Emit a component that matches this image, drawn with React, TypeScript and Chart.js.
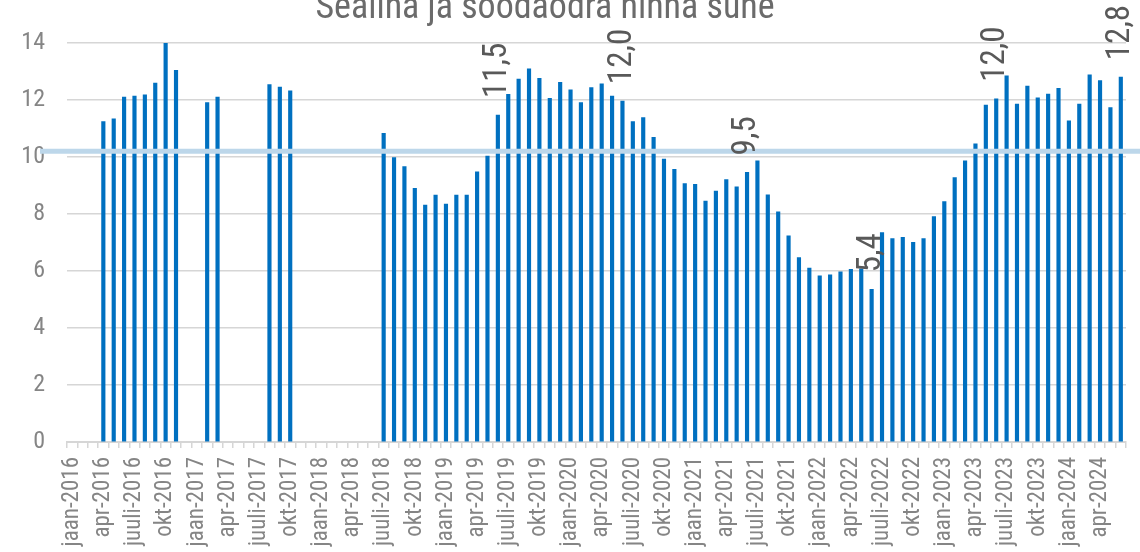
import React, { useEffect, useRef } from 'react';
import { Chart, registerables } from 'chart.js';

Chart.register(...registerables);

// ---- data ----
const monthNames = ['jaan', 'veebr', 'märts', 'apr', 'mai', 'juuni', 'juuli', 'aug', 'sept', 'okt', 'nov', 'dets'];
const years = [2016, 2017, 2018, 2019, 2020, 2021, 2022, 2023, 2024];

const values2016 = [null, null, null, 11.24, 11.34, 12.10, 12.14, 12.18, 12.59, 14.02, 13.04, null];
const values2017 = [null, 11.91, 12.10, null, null, null, null, 12.54, 12.45, 12.32, null, null];
const values2018 = [null, null, null, null, null, null, 10.83, 9.98, 9.66, 8.90, 8.31, 8.66];
const values2019 = [8.35, 8.66, 8.66, 9.48, 10.03, 11.47, 12.20, 12.73, 13.09, 12.76, 12.06, 12.62];
const values2020 = [12.36, 11.91, 12.44, 12.57, 12.14, 11.96, 11.24, 11.38, 10.69, 9.93, 9.57, 9.07];
const values2021 = [9.04, 8.45, 8.80, 9.21, 8.95, 9.46, 9.87, 8.67, 8.08, 7.23, 6.47, 6.10];
const values2022 = [5.83, 5.87, 5.97, 6.06, 6.08, 5.36, 7.35, 7.14, 7.18, 7.01, 7.14, 7.91];
const values2023 = [8.44, 9.28, 9.87, 10.46, 11.82, 12.04, 12.85, 11.86, 12.49, 12.08, 12.21, 12.41];
const values2024 = [11.27, 11.86, 12.88, 12.68, 11.73, 12.80];

const yearValues = [values2016, values2017, values2018, values2019, values2020, values2021, values2022, values2023, values2024];

const labeledCategories = ['juuni-2019', 'juuni-2020', 'juuni-2021', 'juuni-2022', 'juuni-2023', 'juuni-2024'];
const referenceLevel = 10.2;
const yTicks = [0, 2, 4, 6, 8, 10, 12, 14];
const titleText = 'Sealiha ja söödaodra hinna suhe';

// build table for the library
const categories: string[] = [];
const values: (number | null)[] = [];
years.forEach((yr, yi) => {
  yearValues[yi].forEach((v, mi) => {
    categories.push(`${monthNames[mi]}-${yr}`);
    values.push(v);
  });
});

const FONT = "'Roboto Condensed', 'Liberation Sans Narrow', 'DejaVu Sans Condensed', Roboto, sans-serif";

const overlayPlugin = {
  id: 'overlay',
  afterDatasetsDraw(chart: any) {
    const ctx = chart.ctx;
    const yScale = chart.scales.y;
    // reference line
    const yRef = yScale.getPixelForValue(referenceLevel);
    ctx.save();
    ctx.strokeStyle = '#bdd7ea';
    ctx.lineWidth = 5;
    ctx.beginPath();
    ctx.moveTo(40, yRef);
    ctx.lineTo(chart.width, yRef);
    ctx.stroke();
    ctx.restore();

    // data labels
    const meta = chart.getDatasetMeta(0);
    ctx.save();
    ctx.fillStyle = '#595959';
    ctx.font = `33px ${FONT}`;
    labeledCategories.forEach((cat) => {
      const i = categories.indexOf(cat);
      const v = values[i];
      if (i < 0 || v == null) return;
      const el = meta.data[i];
      ctx.save();
      ctx.translate(el.x, el.y - 17);
      ctx.rotate(-Math.PI / 2);
      ctx.textAlign = 'left';
      ctx.textBaseline = 'middle';
      ctx.fillText(v.toFixed(1).replace('.', ','), 0, 0);
      ctx.restore();
    });
    ctx.restore();

    // title (cut at top)
    ctx.save();
    ctx.fillStyle = '#6b6b6b';
    ctx.font = `36px ${FONT}`;
    ctx.textAlign = 'center';
    ctx.textBaseline = 'alphabetic';
    ctx.fillText(titleText, 545, 18);
    ctx.restore();
  },
};

export default function App() {
  const ref = useRef<HTMLCanvasElement>(null);
  useEffect(() => {
    if (!ref.current) return;
    const chart = new Chart(ref.current, {
      type: 'bar',
      data: {
        labels: categories,
        datasets: [
          {
            data: values as any,
            backgroundColor: '#0070C0',
            barThickness: 3.5,
          },
        ],
      },
      options: {
        animation: false,
        responsive: true,
        maintainAspectRatio: false,
        layout: { padding: { top: 43, right: 14, left: 0, bottom: 0 } },
        plugins: {
          legend: { display: false },
          tooltip: { enabled: false },
          title: { display: false },
        },
        scales: {
          x: {
            grid: {
              offset: true,
              drawOnChartArea: false,
              drawTicks: true,
              tickLength: 6,
              color: '#d6d6d6',
              lineWidth: 1.5,
            },
            border: { color: '#d6d6d6', width: 2 },
            ticks: {
              autoSkip: false,
              maxRotation: 90,
              minRotation: 90,
              padding: 9,
              color: '#858585',
              font: { family: FONT, size: 23 },
              callback: (_v: any, i: number) => (i % 3 === 0 ? categories[i] : ''),
            },
            afterFit: (s: any) => {
              s.height = 110;
              s.paddingLeft = 0;
              s.paddingRight = 0;
            },
          },
          y: {
            min: 0,
            max: 14,
            afterBuildTicks: (s: any) => {
              s.ticks = yTicks.map((v) => ({ value: v }));
            },
            ticks: {
              padding: 22,
              color: '#858585',
              font: { family: FONT, size: 24 },
            },
            grid: { color: '#d6d6d6', lineWidth: 1.5, drawTicks: false },
            border: { display: false },
            afterFit: (s: any) => {
              s.width = 67;
            },
          },
        },
      },
      plugins: [overlayPlugin],
    });
    return () => chart.destroy();
  }, []);
  return (
    <div style={{ position: 'fixed', left: 0, top: 0, width: 1140, height: 552, background: '#fff' }}>
      <canvas ref={ref} />
    </div>
  );
}
